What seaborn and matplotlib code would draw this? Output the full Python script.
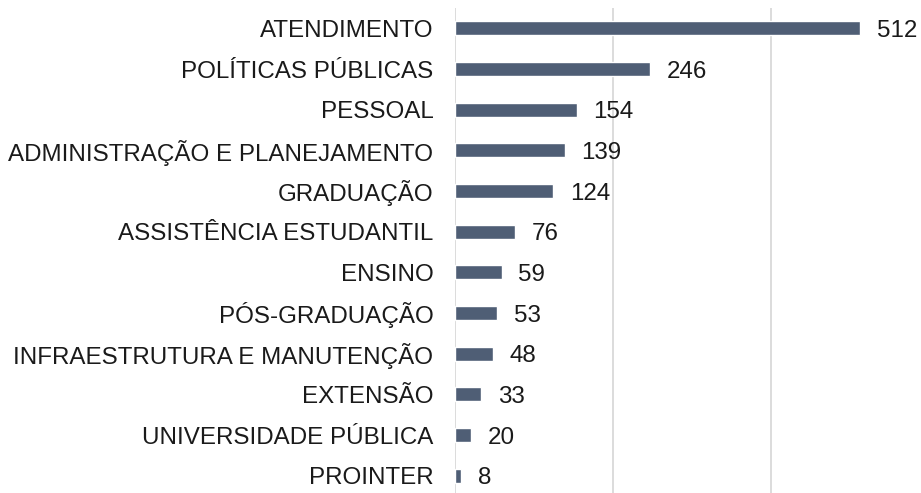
import matplotlib
matplotlib.use('Agg')
import matplotlib.pyplot as plt
import seaborn as sns
import pandas as pd

# Data
categories = ['ATENDIMENTO', 'POLÍTICAS PÚBLICAS', 'PESSOAL', 'ADMINISTRAÇÃO E PLANEJAMENTO',
              'GRADUAÇÃO', 'ASSISTÊNCIA ESTUDANTIL', 'ENSINO', 'PÓS-GRADUAÇÃO',
              'INFRAESTRUTURA E MANUTENÇÃO', 'EXTENSÃO', 'UNIVERSIDADE PÚBLICA', 'PROINTER']
counts = [512, 246, 154, 139, 124, 76, 59, 53, 48, 33, 20, 8]

df = pd.DataFrame({'categoria': categories, 'total': counts})

sns.set_style('white')
plt.rcParams['font.family'] = ['Liberation Sans', 'DejaVu Sans']

fig = plt.figure(figsize=(9.21, 4.93), dpi=100)
ax = fig.add_axes([455 / 921, -3 / 493, 474.6 / 921, 488 / 493])

sns.barplot(data=df, x='total', y='categoria', color='#4F5E75', saturation=1,
            width=0.35, ax=ax, orient='h')

ax.set_xlim(0, 600)
ax.set_xticks([0, 200, 400, 600])
ax.xaxis.grid(True, color='#D9D9D9', linewidth=1.3)
ax.set_axisbelow(True)
for s in ax.spines.values():
    s.set_visible(False)
ax.set_xlabel('')
ax.set_ylabel('')
ax.tick_params(axis='x', bottom=False, labelbottom=False)
ax.tick_params(axis='y', left=False, pad=12, labelsize=17.4, labelcolor='#1a1a1a')

# value labels
for i, v in enumerate(counts):
    ax.annotate(str(v), (v, i), xytext=(12, -2), textcoords='offset points',
                va='center', ha='left', fontsize=17.4, color='#1a1a1a')

fig.savefig('out.png', dpi=100)
